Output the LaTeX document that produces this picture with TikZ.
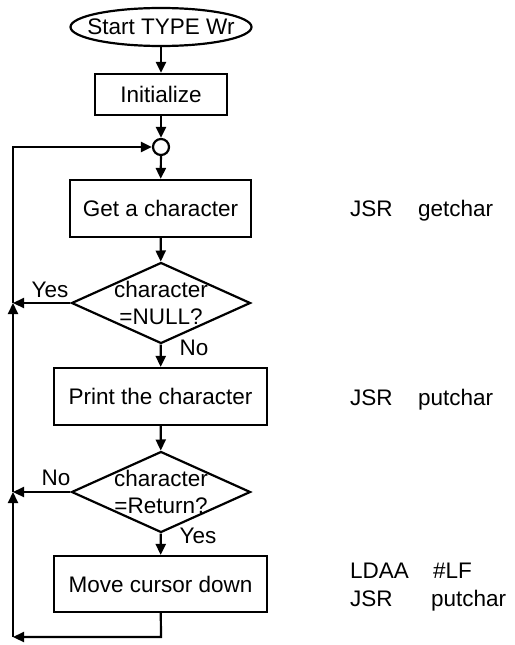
\documentclass[tikz,border=0pt]{standalone}
\usepackage{fontspec}
\setmainfont{Liberation Sans}
\usetikzlibrary{shapes.geometric,arrows.meta}
\begin{document}
\begin{tikzpicture}[x=1pt,y=-1pt,line width=2.2pt,
  font=\fontsize{22.5}{27}\selectfont,
  box/.style={draw,rectangle,inner sep=0pt},
  dia/.style={draw,diamond,inner sep=0pt,minimum width=179pt,minimum height=81pt},
  txt/.style={inner sep=0pt,align=center},
  lbl/.style={inner sep=0pt},
  code/.style={inner sep=0pt,anchor=base west},
  arr/.style={-{Triangle[length=11pt,width=10pt]}}]
\useasboundingbox (0,0) rectangle (514,645);
% start
\node[draw,ellipse,inner sep=0pt,minimum width=181pt,minimum height=38pt] (start) at (161,27) {};
\node[txt] (starttxt) at (start) {Start TYPE Wr};
\node[box,minimum width=132pt,minimum height=41pt] (init) at (161,94.5) {Initialize};
\node[draw,circle,inner sep=0pt,minimum size=16pt,fill=white] (circ) at (161,147) {};
\node[box,minimum width=181pt,minimum height=57pt] (get) at (160.5,208.5) {Get a character};
\node[dia] (d1) at (161,303) {};
\node[txt] (d1txt) at (161,303) {character\\=NULL?};
\node[box,minimum width=213pt,minimum height=57pt] (print) at (160.5,396.5) {Print the character};
\node[dia] (d2) at (161,492) {};
\node[txt] (d2txt) at (161,492) {character\\=Return?};
\node[box,minimum width=213pt,minimum height=56pt] (move) at (160.5,584) {Move cursor down};
% labels
\node[lbl] (yes1) at (50,290) {Yes};
\node[lbl] (no1) at (194,348) {No};
\node[lbl] (no2) at (56,478) {No};
\node[lbl] (yes2) at (198,536) {Yes};
% code
\node[code] (c1a) at (349,216) {JSR};
\node[code] (c1b) at (417,216) {getchar};
\node[code] (c2a) at (349,405) {JSR};
\node[code] (c2b) at (417,405) {putchar};
\node[code] (c3a) at (349,578) {LDAA};
\node[code] (c3b) at (432,578) {\#LF};
\node[code] (c4a) at (349,606) {JSR};
\node[code] (c4b) at (430,606) {putchar};
% coordinates
\coordinate (mb) at (161,637);
\coordinate (lb) at (13,637);
\coordinate (l2) at (13,492);
\coordinate (l1) at (13,303);
\coordinate (lt) at (13,147);
% flow
\draw[arr] (start) -- (init);
\draw[arr] (init) -- (circ);
\draw[arr] (circ) -- (get);
\draw[arr] (get) -- (d1);
\draw[arr] (d1) -- (print);
\draw[arr] (print) -- (d2);
\draw[arr] (d2) -- (move);
\draw[arr] (move) -- (mb) -- (lb);
\draw[arr] (lb) -- (l2);
\draw[arr] (d2.west) -- (l2);
\draw[arr] (l2) -- (l1);
\draw[arr] (d1.west) -- (l1);
\draw[arr] (l1) -- (lt) -- (circ.west);
\end{tikzpicture}
\end{document}
